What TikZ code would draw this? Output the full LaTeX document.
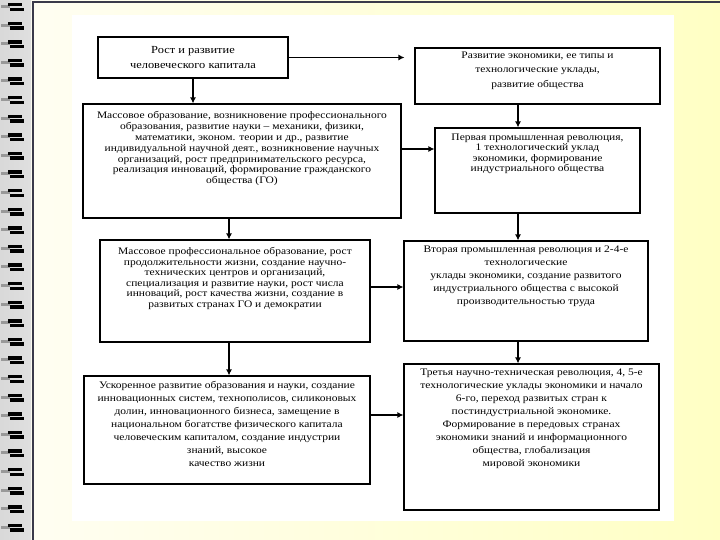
\documentclass[tikz,border=0pt]{standalone}
\usepackage{fontspec}
\setmainfont{Liberation Serif}[FakeStretch=1.15]
\usetikzlibrary{arrows.meta,fit}

\definecolor{pagecream}{HTML}{FFFEF2}
\definecolor{pageyellow}{HTML}{FFFFC4}
\definecolor{frameline}{HTML}{3A3A4A}

\begin{document}
\begin{tikzpicture}[x=1pt, y=-1pt,
    block/.style={draw, line width=1.1pt, inner sep=0pt},
    blocktext/.style={anchor=north, align=center, inner sep=0pt, font=\fontsize{10}{10.8}\selectfont},
    arr/.style={-{Latex[length=6pt,width=6pt]}, line width=1.9pt}]
    % Page and binding
    \useasboundingbox (0,0) rectangle (720,540);
    \shade[left color=pagecream, right color=pageyellow] (31,0) rectangle (720,540);
    \shade[left color=gray!30, middle color=gray!65, right color=gray!25] (0,0) rectangle (31,540);
    \foreach \i in {0,...,28} {
        \pgfmathsetmacro\ry{7+18.6*\i}
        \fill[gray!80] (1,\ry-2) rectangle (10,\ry+1);
        \fill[black] (8,\ry-4) rectangle (22,\ry-0.6);
        \fill[black] (10,\ry+0.6) rectangle (24,\ry+4);
    }
    \draw[frameline, line width=1.5pt] (33,540) -- (33,2) -- (720,2);
    \fill[white] (72,15) rectangle (674,521);

    % Left column
    \node[block, fit={(98,37) (288,78)}] (rost) {};
    \node[blocktext, anchor=center, font=\fontsize{10.8}{15}\selectfont] (rosttext) at (rost.center) {Рост и развитие\\человеческого капитала};
    \node[block, fit={(83,104) (401,218)}] (mass) {};
    \node[blocktext] (masstext) at ([yshift=-8pt]mass.north) {Массовое образование, возникновение профессионального\\образования,  развитие науки – механики, физики,\\математики, эконом. теории и др., развитие\\индивидуальной научной деят., возникновение научных\\организаций, рост предпринимательского ресурса,\\реализация инноваций, формирование гражданского\\общества (ГО)};
    \node[block, fit={(100,240) (370,342)}] (prof) {};
    \node[blocktext, font=\fontsize{10}{10.5}\selectfont] (proftext) at ([yshift=-8pt]prof.north) {Массовое профессиональное образование, рост\\продолжительности жизни, создание научно-\\технических центров и организаций,\\специализация и развитие науки, рост числа\\инноваций, рост качества жизни, создание в\\развитых странах ГО и демократии};
    \node[block, fit={(84,376) (370,484)}] (uskor) {};
    \node[blocktext, font=\fontsize{10}{13}\selectfont] (uskortext) at ([yshift=-6pt]uskor.north) {Ускоренное развитие образования и науки, создание\\инновационных систем, технополисов, силиконовых\\долин, инновационного бизнеса, замещение в\\национальном богатстве физического капитала\\человеческим капиталом, создание индустрии\\знаний, высокое\\качество жизни};

    % Right column
    \node[block, fit={(415,48) (660,104)}] (econ) {};
    \node[blocktext, font=\fontsize{10}{14.5}\selectfont] (econtext) at ([yshift=-4pt]econ.north) {Развитие экономики, ее типы и\\технологические уклады,\\развитие общества};
    \node[block, fit={(435,128) (640,213)}] (rev1) {};
    \node[blocktext, font=\fontsize{10}{10.5}\selectfont] (rev1text) at ([yshift=-6pt]rev1.north) {Первая промышленная революция,\\1 технологический уклад\\экономики, формирование\\индустриального общества};
    \node[block, fit={(404,241) (648,341)}] (rev2) {};
    \node[blocktext, font=\fontsize{10}{13}\selectfont] (rev2text) at ([yshift=-5pt]rev2.north) {Вторая промышленная революция и 2-4-е\\технологические\\уклады экономики, создание развитого\\индустриального общества с высокой\\производительностью труда};
    \node[block, fit={(404,364) (659,510)}] (rev3) {};
    \node[blocktext, font=\fontsize{10}{13}\selectfont] (rev3text) at ([yshift=-5pt]rev3.north) {Третья научно-техническая революция, 4, 5-е\\технологические уклады экономики и начало\\6-го, переход развитых стран к\\постиндустриальной экономике.\\Формирование в передовых странах\\экономики знаний и информационного\\общества, глобализация\\мировой экономики};

    % Arrow columns and rows
    \coordinate (colL) at (229,0);
    \coordinate (colR) at (518,0);
    \coordinate (rowA) at (0,149);
    \coordinate (rowB) at (0,287);
    \coordinate (rowC) at (0,415);

    % Connectors
    \draw[arr] (rost.east) -- ([xshift=-10pt]econ.west |- rost.east);
    \draw[arr] (rost.south) -- (rost.south |- mass.north);
    \draw[arr] (econ.south -| colR) -- (rev1.north -| colR);
    \draw[arr] (mass.east |- rowA) -- (rev1.west |- rowA);
    \draw[arr] (mass.south -| colL) -- (prof.north -| colL);
    \draw[arr] (rev1.south -| colR) -- (rev2.north -| colR);
    \draw[arr] (prof.east |- rowB) -- (rev2.west |- rowB);
    \draw[arr] (prof.south -| colL) -- (uskor.north -| colL);
    \draw[arr] (rev2.south -| colR) -- (rev3.north -| colR);
    \draw[arr] (uskor.east |- rowC) -- (rev3.west |- rowC);
\end{tikzpicture}
\end{document}
